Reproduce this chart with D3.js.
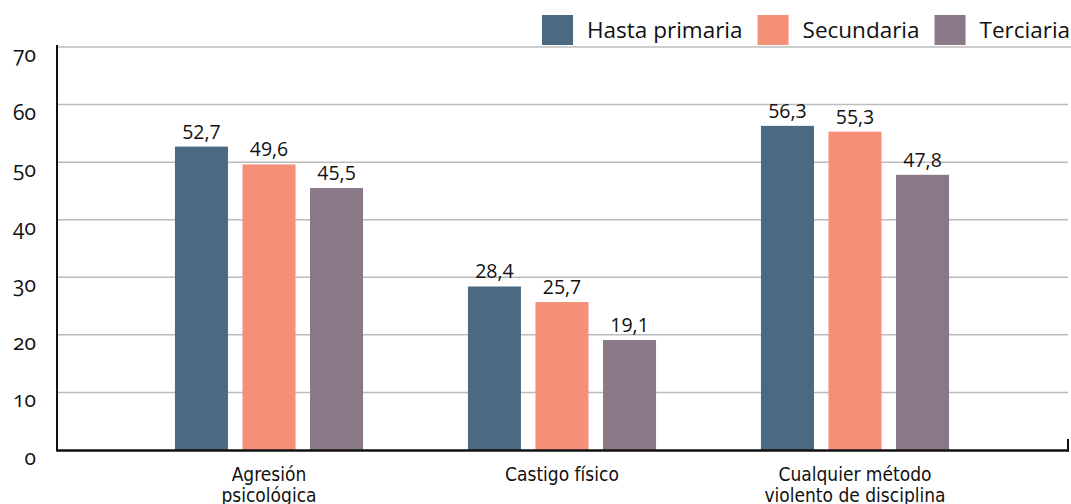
<!DOCTYPE html>
<html>
<head>
<meta charset="utf-8">
<script src="https://cdn.jsdelivr.net/npm/d3@7"></script>
<style>
  body { margin: 0; background: #fff; }
  text { font-family: "Open Sans", "Noto Sans", sans-serif; fill: #111; }
  .cat { font-family: "Liberation Sans Narrow", "DejaVu Sans Condensed", sans-serif; }
  .ytick { font-variant-numeric: oldstyle-nums; }
</style>
</head>
<body>
<script>
// categories and series
var categories = ["Agresión psicológica", "Castigo físico", "Cualquier método violento de disciplina"];
var categoryLines = [["Agresión", "psicológica"], ["Castigo físico"], ["Cualquier método", "violento de disciplina"]];
var seriesNames = ["Hasta primaria", "Secundaria", "Terciaria"];
var seriesColors = ["#4b6a81", "#f68f77", "#8a7886"];
var hastaPrimaria = [52.7, 28.4, 56.3];
var secundaria = [49.6, 25.7, 55.3];
var terciaria = [45.5, 19.1, 47.8];
var yTicks = [0, 10, 20, 30, 40, 50, 60, 70];

var seriesValues = [hastaPrimaria, secundaria, terciaria];

var width = 1071, height = 504;
var plotLeft = 57, plotRight = 1068;

var svg = d3.select("body").append("svg")
  .attr("width", width)
  .attr("height", height);

var y = d3.scaleLinear().domain([0, 70]).range([450, 47]);

// outer band: one per category
var x0 = d3.scaleBand()
  .domain(categories)
  .range([122.5, 1001.5])
  .paddingInner(0.358)
  .paddingOuter(0.179);

// inner band: one per series
var x1 = d3.scaleBand()
  .domain(seriesNames)
  .range([0, x0.bandwidth()])
  .paddingInner(0.215);

// gridlines
svg.append("g").selectAll("line")
  .data(yTicks.filter(function (d) { return d > 0; }))
  .join("line")
  .attr("x1", plotLeft)
  .attr("x2", function (d) { return d === 70 ? width : plotRight; })
  .attr("y1", function (d) { return y(d); })
  .attr("y2", function (d) { return y(d); })
  .style("stroke", "#bcbcbc")
  .style("stroke-width", 1.5);

// y tick labels
svg.append("g").selectAll("text")
  .data(yTicks)
  .join("text")
  .attr("class", "ytick")
  .attr("x", 36)
  .attr("y", function (d) { return y(d) + 15; })
  .attr("text-anchor", "end")
  .style("font-size", "21px")
  .text(function (d) { return d; });

// bars
var groups = svg.append("g").selectAll("g")
  .data(categories)
  .join("g")
  .attr("transform", function (d) { return "translate(" + x0(d) + ",0)"; });

var barData = function (c, i) {
  return seriesNames.map(function (s, j) {
    return { series: s, value: seriesValues[j][i], color: seriesColors[j] };
  });
};

groups.selectAll("rect")
  .data(barData)
  .join("rect")
  .attr("x", function (d) { return x1(d.series); })
  .attr("y", function (d) { return y(d.value); })
  .attr("width", x1.bandwidth())
  .attr("height", function (d) { return y(0) - y(d.value); })
  .attr("fill", function (d) { return d.color; });

var fmt = function (v) { return d3.format(".1f")(v).replace(".", ","); };

groups.selectAll("text.val")
  .data(barData)
  .join("text")
  .attr("class", "val")
  .attr("x", function (d) { return x1(d.series) + x1.bandwidth() / 2; })
  .attr("y", function (d) { return y(d.value) - 8; })
  .attr("text-anchor", "middle")
  .style("font-size", "19.5px")
  .text(function (d) { return fmt(d.value); });

// axes lines
svg.append("line")
  .attr("x1", plotLeft).attr("x2", plotLeft)
  .attr("y1", 45).attr("y2", y(0) + 1.5)
  .style("stroke", "#111").style("stroke-width", 2);
svg.append("line")
  .attr("x1", plotLeft).attr("x2", plotRight + 1)
  .attr("y1", y(0) + 0.5).attr("y2", y(0) + 0.5)
  .style("stroke", "#111").style("stroke-width", 2.5);
svg.append("line")
  .attr("x1", plotRight).attr("x2", plotRight)
  .attr("y1", y(0) - 11).attr("y2", y(0) + 1.5)
  .style("stroke", "#111").style("stroke-width", 2);

// category labels
groups.append("text")
  .attr("class", "cat")
  .attr("text-anchor", "middle")
  .style("font-size", "19px")
  .selectAll("tspan")
  .data(function (d, i) { return categoryLines[i]; })
  .join("tspan")
  .attr("x", x0.bandwidth() / 2)
  .attr("y", function (d, i) { return 481 + i * 21; })
  .text(function (d) { return d; });

// legend
var legend = svg.append("g");
var lx = 542;
seriesNames.forEach(function (s, i) {
  legend.append("rect")
    .attr("x", lx).attr("y", 15)
    .attr("width", 31).attr("height", 30)
    .attr("fill", seriesColors[i]);
  var t = legend.append("text")
    .attr("x", lx + 45).attr("y", 38)
    .style("font-size", "22.5px")
    .text(s);
  lx += 45 + t.node().getComputedTextLength() + 15;
});
</script>
</body>
</html>
